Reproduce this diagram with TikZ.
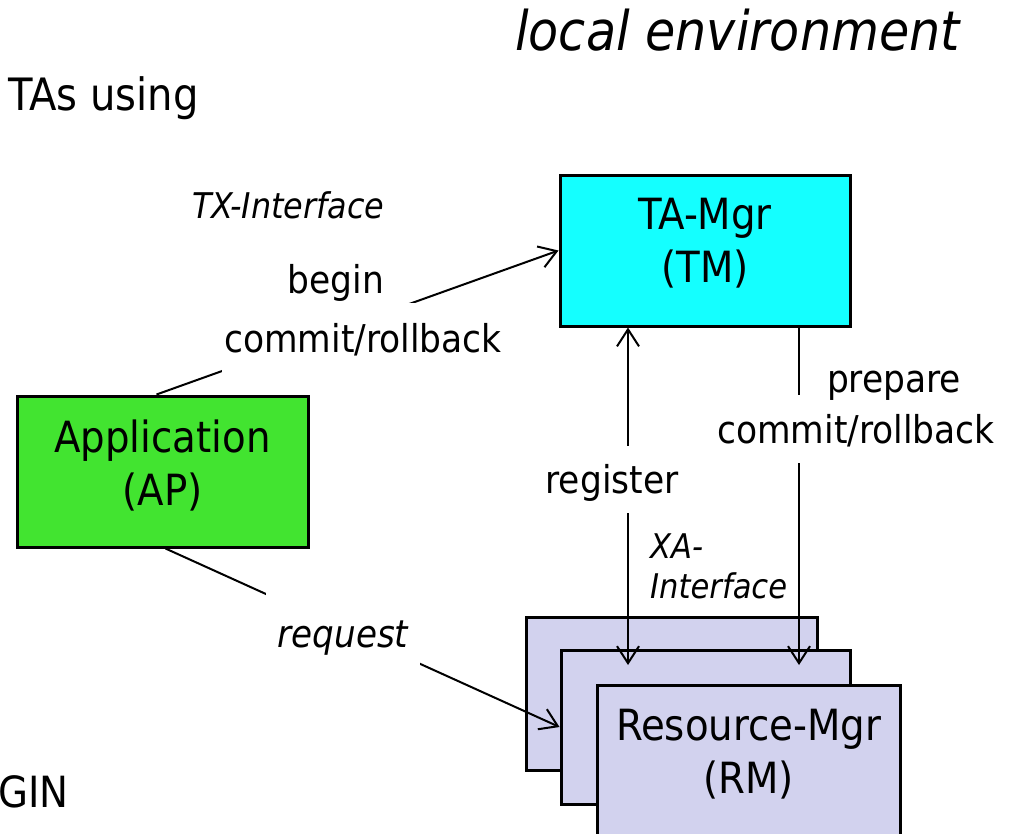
\documentclass[tikz,border=0pt]{standalone}
\usepackage{fontspec}
\setmainfont{DejaVu Sans Condensed}
\usetikzlibrary{arrows.meta}
\definecolor{tmcyan}{RGB}{20,255,255}
\definecolor{apgreen}{RGB}{66,228,48}
\definecolor{rmlav}{RGB}{210,210,238}
% extra depth under the last line of a box label, lifting the text a little
\newcommand{\liftby}[1]{\rule[-#1]{0pt}{0pt}}
\begin{document}
\begin{tikzpicture}[x=1pt,y=-1pt,
  box/.style={draw=black,line width=3pt,inner sep=0pt,align=center,
    font=\fontsize{43}{53}\selectfont},
  link/.style={draw=black,line width=2pt},
  >={Straight Barb[length=17pt,width=22pt]},
  lbl/.style={inner sep=0pt,anchor=base,font=\fontsize{38.3}{46}\selectfont},
  ilbl/.style={lbl,font=\fontsize{38}{46}\selectfont\itshape},
  slbl/.style={inner sep=0pt,anchor=base west,font=\fontsize{35.4}{40}\selectfont\itshape},
  gap/.style={fill=white},
  head/.style={inner sep=0pt,anchor=base west,font=\fontsize{44.6}{50}\selectfont}]
\useasboundingbox (0,0) rectangle (1016,833);

% headings
\node[head,font=\fontsize{54.7}{60}\selectfont\itshape] (env) at (515,50) {local environment};
\node[head] (tas) at (8,110) {TAs using};
\node[head,font=\fontsize{43}{50}\selectfont] (gin) at (-2,807) {GIN};

% components
\node[box,fill=tmcyan,minimum width=290pt,minimum height=151pt] (tm) at (705,250.5) {TA-Mgr\\(TM)\liftby{21pt}};
\node[box,fill=apgreen,minimum width=291pt,minimum height=151pt] (ap) at (162.5,471.5) {Application\\(AP)\liftby{17pt}};
\node[box,fill=rmlav,minimum width=291pt,minimum height=153pt] (rm3) at (671.5,693.5) {};
\node[box,fill=rmlav,minimum width=289pt,minimum height=154pt] (rm2) at (705.5,727) {};
\node[box,fill=rmlav,minimum width=303pt,minimum height=153pt] (rm1) at (748.5,761.5) {Resource-Mgr\\(RM)\liftby{21pt}};

% connectors
\coordinate (regend) at (628,665);
\coordinate (prepend) at (799,665);
\draw[link,->] ([xshift=-6pt]ap.north) -- (tm.west);
\draw[link,->] ([xshift=3pt]ap.south) -- (rm2.west);
\draw[link,<->] (tm.south -| regend) -- (regend);
\draw[link,->] (tm.south -| prepend) -- (prepend);

% connector labels
\node[lbl,gap,text height=49pt,text depth=22pt,inner xsep=2pt] (crl) at (363,352) {commit/rollback};
\node[lbl] (begin) at (336,293) {begin};
\node[ilbl,gap,minimum width=154pt,text height=57pt,text depth=25pt] (req) at (343,647) {request};
\node[lbl,gap,text height=47pt,text depth=20pt,inner xsep=4pt] (reg) at (612,493) {register};
\node[lbl,gap,text height=48pt,text depth=20pt] (crr) at (856,443) {commit/rollback};
\node[lbl] (prep) at (894,392) {prepare};
\node[slbl] (txi) at (192,218) {TX-Interface};
\node[slbl,font=\fontsize{34}{40}\selectfont\itshape] (xa1) at (650,558) {XA-};
\node[slbl,font=\fontsize{34}{40}\selectfont\itshape] (xa2) at (650,598) {Interface};
\end{tikzpicture}
\end{document}
